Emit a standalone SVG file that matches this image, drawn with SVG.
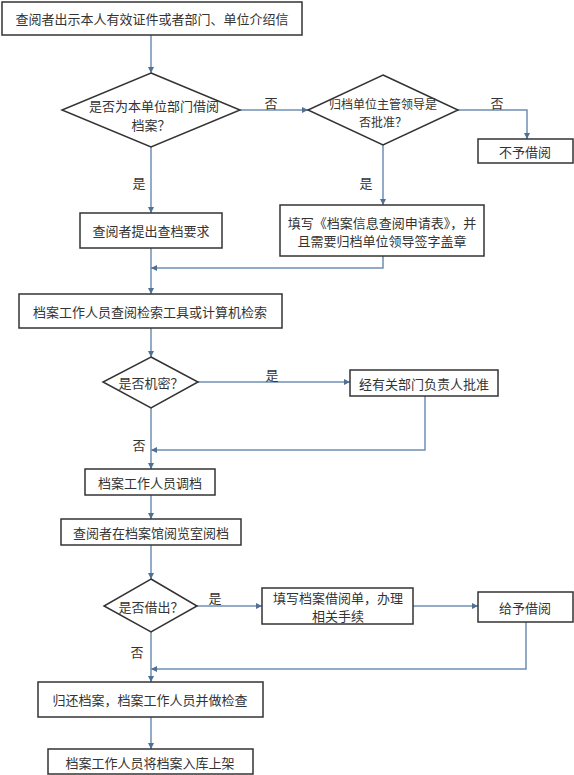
<svg xmlns="http://www.w3.org/2000/svg" width="574" height="775" viewBox="0 0 574 775">
<defs>
<marker id="ah" viewBox="0 0 10 10" refX="10" refY="5" markerWidth="6" markerHeight="6" markerUnits="userSpaceOnUse" orient="auto">
<path d="M0,0 L10,5 L0,10 z" fill="#4f6f95"/>
</marker>
<style>
.n rect,.n polygon{fill:#fff;stroke:#333;stroke-width:1.5}
text{font-family:"Noto Sans CJK SC","Noto Sans",sans-serif;font-size:13px;fill:#333;text-anchor:middle;dominant-baseline:central}
.s{font-size:12px}
.c path{fill:none;stroke:#6f8fb4;stroke-width:1.5;marker-end:url(#ah)}
</style>
</defs>
<rect width="574" height="775" fill="#fff"/>
<g class="c" id="connectors">
<path d="M151,35 V73"/>
<path d="M240,110 H308"/>
<path d="M458,110 H527 V139"/>
<path d="M383,145 V205"/>
<path d="M151,147 V213"/>
<path d="M151,248 V294"/>
<path d="M383,256 V268 H151"/>
<path d="M151,328 V357"/>
<path d="M198,382 H350"/>
<path d="M425,396 V450 H151"/>
<path d="M151,408 V469"/>
<path d="M151,495 V519"/>
<path d="M151,545 V579"/>
<path d="M197,606 H262"/>
<path d="M413,606 H478"/>
<path d="M526,622 V669 H151"/>
<path d="M151,632 V682"/>
<path d="M151,717 V749"/>
<text x="271" y="102">否</text>
<text x="497" y="102">否</text>
<text x="366" y="182">是</text>
<text x="139" y="182">是</text>
<text x="272" y="374">是</text>
<text x="139" y="444">否</text>
<text x="215" y="597">是</text>
<text x="137" y="651">否</text>
</g>
<g class="n" id="n1"><rect x="2" y="2" width="300" height="33"/><text x="152" y="18.5">查阅者出示本人有效证件或者部门、单位介绍信</text></g>
<g class="n" id="n2"><polygon points="151,73 240,110 151,147 62,110"/><text x="154" y="105">是否为本单位部门借阅</text><text x="151" y="124">档案？</text></g>
<g class="n" id="n3"><polygon points="383,75 458,110 383,145 308,110"/><text class="s" x="383" y="103">归档单位主管领导是</text><text class="s" x="383" y="121">否批准？</text></g>
<g class="n" id="n4"><rect x="478" y="139" width="95" height="24"/><text x="525" y="151">不予借阅</text></g>
<g class="n" id="n5"><rect x="280" y="205" width="204" height="51"/><text x="382" y="222">填写《档案信息查阅申请表》，并</text><text x="382" y="240">且需要归档单位领导签字盖章</text></g>
<g class="n" id="n6"><rect x="80" y="213" width="142" height="35"/><text x="151" y="230.5">查阅者提出查档要求</text></g>
<g class="n" id="n7"><rect x="19" y="294" width="263" height="34"/><text x="150" y="311">档案工作人员查阅检索工具或计算机检索</text></g>
<g class="n" id="n8"><polygon points="151,357 198,382 151,408 103,382"/><text x="151" y="382">是否机密？</text></g>
<g class="n" id="n9"><rect x="350" y="370" width="148" height="26"/><text x="424" y="383">经有关部门负责人批准</text></g>
<g class="n" id="n10"><rect x="85" y="469" width="130" height="26"/><text x="150" y="482">档案工作人员调档</text></g>
<g class="n" id="n11"><rect x="61" y="519" width="180" height="26"/><text x="151" y="532">查阅者在档案馆阅览室阅档</text></g>
<g class="n" id="n12"><polygon points="151,579 197,606 151,632 104,606"/><text x="151" y="606">是否借出？</text></g>
<g class="n" id="n13"><rect x="262" y="588" width="151" height="36"/><text x="338" y="597">填写档案借阅单，办理</text><text x="338" y="615">相关手续</text></g>
<g class="n" id="n14"><rect x="478" y="592" width="95" height="30"/><text x="525" y="607">给予借阅</text></g>
<g class="n" id="n15"><rect x="38" y="682" width="225" height="35"/><text x="150" y="699.5">归还档案，档案工作人员并做检查</text></g>
<g class="n" id="n16"><rect x="48" y="749" width="205" height="25"/><text x="150" y="762">档案工作人员将档案入库上架</text></g>
</svg>
